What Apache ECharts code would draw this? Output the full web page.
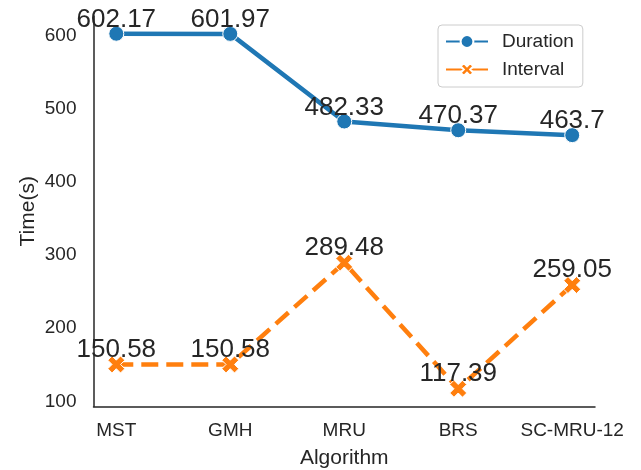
<!DOCTYPE html>
<html>
<head>
<meta charset="utf-8">
<script src="https://cdn.jsdelivr.net/npm/echarts@6/dist/echarts.min.js"></script>
<style>
html,body{margin:0;padding:0;background:#fff;}
#chart{width:641px;height:470px;}
</style>
</head>
<body>
<div id="chart"></div>
<script>
const categories = ["MST", "GMH", "MRU", "BRS", "SC-MRU-12"];
const durationValues = [602.17, 601.97, 482.33, 470.37, 463.7];
const intervalValues = [150.58, 150.58, 289.48, 117.39, 259.05];
const yTicks = [100, 200, 300, 400, 500, 600];

const textColor = '#262626';
const fontFam = '"Liberation Sans", Arial, sans-serif';
const xMarker = 'path://M1,0 L2,1 L3,0 L4,1 L3,2 L4,3 L3,4 L2,3 L1,4 L0,3 L1,2 L0,1 Z';

function toPairs(vals){ return vals.map((v,i)=>[i,v]); }

const labelCfg = {
  show: true,
  position: 'top',
  distance: -7,
  fontSize: 26,
  color: textColor,
  fontFamily: fontFam,
  formatter: p => String(p.value[1])
};

const chart = echarts.init(document.getElementById('chart'), null, {renderer:'canvas'});
chart.setOption({
  animation: false,
  backgroundColor: '#ffffff',
  textStyle: {fontFamily: fontFam, color: textColor},
  grid: {left: 93.5, right: 46, top: 16, bottom: 63.5, containLabel: false, outerBoundsMode: 'none'},
  legend: {
    left: 438, top: 25,
    orient: 'vertical',
    itemWidth: 42, itemHeight: 16, itemGap: 9,
    padding: [7, 9, 8, 7],
    borderColor: '#cccccc', borderWidth: 1, borderRadius: 4,
    backgroundColor: 'rgba(255,255,255,0.8)',
    textStyle: {fontSize: 19, color: textColor, fontFamily: fontFam, padding: [0,0,0,9]},
    data: ['Duration', 'Interval']
  },
  xAxis: {
    type: 'value', min: -0.2, max: 4.2,
    name: 'Algorithm', nameLocation: 'middle', nameGap: 41, nameMoveOverlap: false,
    nameTextStyle: {fontSize: 21, color: textColor, fontFamily: fontFam},
    axisLine: {show: true, onZero: false, lineStyle: {color: textColor, width: 1.5}},
    axisTick: {show: false},
    splitLine: {show: false},
    axisLabel: {
      customValues: [0,1,2,3,4],
      formatter: v => categories[Math.round(v)],
      fontSize: 19, color: textColor, fontFamily: fontFam, margin: 15
    }
  },
  yAxis: {
    type: 'value', min: 93.15, max: 626.4,
    name: 'Time(s)', nameLocation: 'middle', nameGap: 55, nameMoveOverlap: false,
    nameTextStyle: {fontSize: 21, color: textColor, fontFamily: fontFam},
    axisLine: {show: true, onZero: false, lineStyle: {color: textColor, width: 1.5}},
    axisTick: {show: false},
    splitLine: {show: false},
    axisLabel: {
      customValues: yTicks,
      fontSize: 19, color: textColor, fontFamily: fontFam, margin: 17
    }
  },
  series: [
    {
      name: 'Duration', type: 'line',
      data: toPairs(durationValues),
      symbol: 'circle', symbolSize: 15,
      lineStyle: {color: '#1f77b4', width: 4.5},
      itemStyle: {color: '#1f77b4', borderColor: '#ffffff', borderWidth: 1},
      label: labelCfg,
      z: 3
    },
    {
      name: 'Interval', type: 'line',
      data: toPairs(intervalValues),
      symbol: xMarker, symbolSize: 17, symbolKeepAspect: true,
      lineStyle: {color: '#ff7f0e', width: 4.5, type: [17, 8]},
      itemStyle: {color: '#ff7f0e', borderColor: '#ffffff', borderWidth: 1},
      label: labelCfg,
      z: 3
    }
  ]
});
</script>
</body>
</html>
